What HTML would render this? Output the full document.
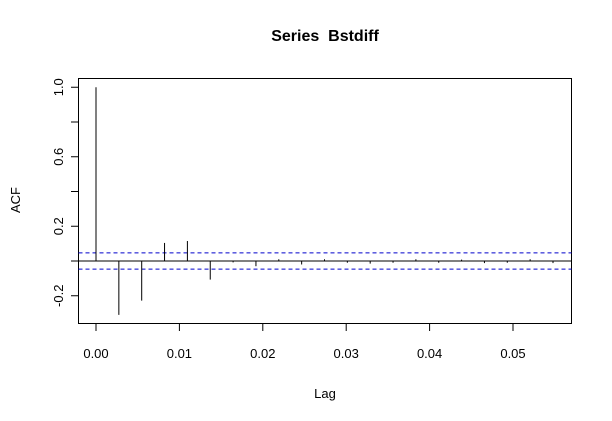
<!DOCTYPE html>
<html><head><meta charset="utf-8"><style>
body{margin:0;background:#fff}
svg{display:block;font-family:"Liberation Sans",Arial,sans-serif}
</style></head><body>
<svg id="chart" width="612" height="421" viewBox="0 0 612 421">
<rect width="612" height="421" fill="#fff"/>
<text x="325" y="41" text-anchor="middle" font-size="16" font-weight="bold">Series&#160; Bstdiff</text>
<rect x="78.5" y="78.5" width="493" height="245" fill="none" stroke="#000"/>
<text x="325" y="398" text-anchor="middle" font-size="13">Lag</text>
<text transform="translate(20,200) rotate(-90)" text-anchor="middle" font-size="13">ACF</text>
<g id="marks"></g>
</svg>
<script>
const lagValues=[0,1,2,3,4,5,6,7,8,9,10,11,12,13,14,15,16,17,18,19,20];
const acfValues=[1.0,-0.31,-0.228,0.104,0.115,-0.107,-0.008,-0.03,0.01,-0.02,0.01,-0.01,-0.015,-0.01,0.01,-0.01,0.008,-0.012,-0.01,0.01,-0.012];
const lagFrequency=365;
const ciBound=0.047;
const xTicks=[0,0.01,0.02,0.03,0.04,0.05];
const xTickLabels=["0.00","0.01","0.02","0.03","0.04","0.05"];
const yTicks=[-0.2,0,0.2,0.4,0.6,0.8,1.0];
const yTickLabels=["-0.2","","0.2","","0.6","","1.0"];

const NS="http://www.w3.org/2000/svg";
const X=v=>96+v*8340;
const Y=v=>261-v*173.75;
const g=document.getElementById('marks');
function mk(t,a){const e=document.createElementNS(NS,t);for(const k in a)e.setAttribute(k,a[k]);g.appendChild(e);return e;}

xTicks.forEach((t,i)=>{
  const l=mk('line',{x1:X(t),x2:X(t),y1:323.5,y2:331,stroke:'#000'});
  
  
  const tx=mk('text',{x:X(t),y:358,'text-anchor':'middle','font-size':'13'});
  tx.textContent=xTickLabels[i];
  
  
});
yTicks.forEach((t,i)=>{
  const l=mk('line',{x1:71,x2:78.5,y1:Y(t),y2:Y(t),stroke:'#000'});
  
  
  if(yTickLabels[i]){
    const tx=mk('text',{transform:`translate(63,${Y(t)}) rotate(-90)`,'text-anchor':'middle','font-size':'13'});
    tx.textContent=yTickLabels[i];
    
    
  }
});
const z=mk('line',{x1:78.5,x2:571.5,y1:Y(0),y2:Y(0),stroke:'#000'});


[ciBound,-ciBound].forEach(c=>{
  const l=mk('line',{x1:78.5,x2:571.5,y1:Y(c),y2:Y(c),stroke:'#0000cc','stroke-dasharray':'4,3'});
  
  
});
lagValues.forEach((k,i)=>{
  const x=X(k/lagFrequency);
  const l=mk('line',{x1:x,x2:x,y1:Y(0),y2:Y(acfValues[i]),stroke:'#000'});
  
  
});
</script>
</body></html>
